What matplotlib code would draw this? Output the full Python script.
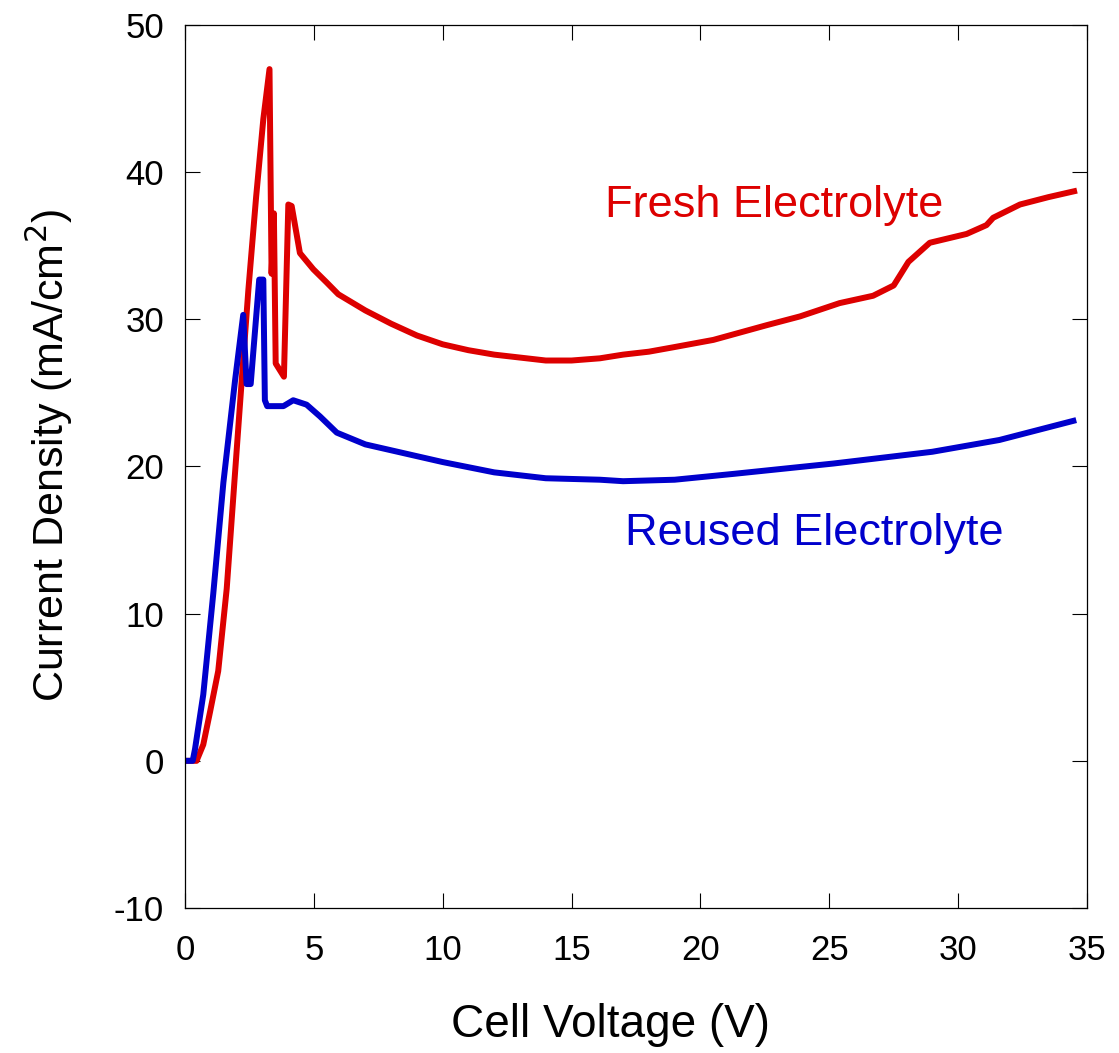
import matplotlib
matplotlib.use("Agg")
import matplotlib.pyplot as plt

plt.rcParams['font.family'] = ['Liberation Sans', 'DejaVu Sans']
plt.rcParams['axes.unicode_minus'] = False

# values
fresh_v = [0, 0.45, 0.71, 0.97, 1.29, 1.62, 1.94, 2.2, 2.46, 2.76, 3.04, 3.28,
           3.36, 3.45, 3.52, 3.84, 4.01, 4.14, 4.46, 4.98, 5.5, 5.95, 7, 8, 9,
           10, 11, 12, 13, 14, 15, 16.1, 17, 18, 18.95, 20.5, 22.57, 23.87,
           25.4, 26.7, 27.5, 28.07, 28.9, 30.33, 31.1, 31.36, 32.4, 33.5, 34.5]
fresh_j = [0, 0, 1.1, 3.3, 6.1, 11.7, 19.5, 25.8, 32.0, 38.3, 43.6, 47.0,
           33.1, 37.2, 27.0, 26.1, 37.8, 37.7, 34.5, 33.4, 32.5, 31.7, 30.6,
           29.7, 28.9, 28.3, 27.9, 27.6, 27.4, 27.2, 27.2, 27.35, 27.6, 27.8,
           28.1, 28.6, 29.6, 30.2, 31.1, 31.6, 32.3, 33.9, 35.2, 35.8, 36.4,
           36.9, 37.8, 38.3, 38.7]

reused_v = [0, 0.3, 0.39, 0.71, 1.1, 1.49, 1.94, 2.26, 2.39, 2.55, 2.88, 3.04,
            3.1, 3.19, 3.82, 4.2, 4.72, 5.24, 5.89, 7, 8, 10, 12, 14, 16.1, 17,
            19, 21.3, 25.16, 29.0, 31.6, 34.47]
reused_j = [0, 0, 0.8, 4.5, 11.4, 18.9, 25.8, 30.3, 25.6, 25.6, 32.7, 32.7,
            24.5, 24.1, 24.1, 24.5, 24.2, 23.4, 22.3, 21.5, 21.1, 20.3, 19.6,
            19.2, 19.1, 19.0, 19.1, 19.5, 20.2, 21.0, 21.8, 23.1]

red = '#dd0000'
blue = '#0000cc'

fig = plt.figure(figsize=(11.19, 10.53), dpi=100)
ax = fig.add_axes([0.1653, 0.1377, 0.8061, 0.8386])

ax.plot(fresh_v, fresh_j, color=red, lw=4.3)
ax.plot(reused_v, reused_j, color=blue, lw=4.3)

ax.text(22.88, 36.96, 'Fresh Electrolyte', color=red, fontsize=32.5,
        ha='center', va='baseline')
ax.text(24.41, 14.67, 'Reused Electrolyte', color=blue, fontsize=32.5,
        ha='center', va='baseline')

ax.set_xlim(0, 35)
ax.set_ylim(-10, 50)
ax.set_xticks(range(0, 36, 5))
ax.set_yticks(range(-10, 51, 10))
ax.tick_params(direction='in', length=11, width=0.8, labelsize=25,
               top=True, right=True)
ax.tick_params(axis='x', pad=19)
ax.tick_params(axis='y', pad=15)
for s in ax.spines.values():
    s.set_linewidth(0.9)

ax.set_xlabel('Cell Voltage (V)', fontsize=33, va='center')
ax.xaxis.set_label_coords(0.472, -0.1325)
ax.set_ylabel('Current Density (mA/cm$^2$)', fontsize=31, va='center')
ax.yaxis.set_label_coords(-0.151, 0.513)

fig.savefig('out.png', dpi=100)
